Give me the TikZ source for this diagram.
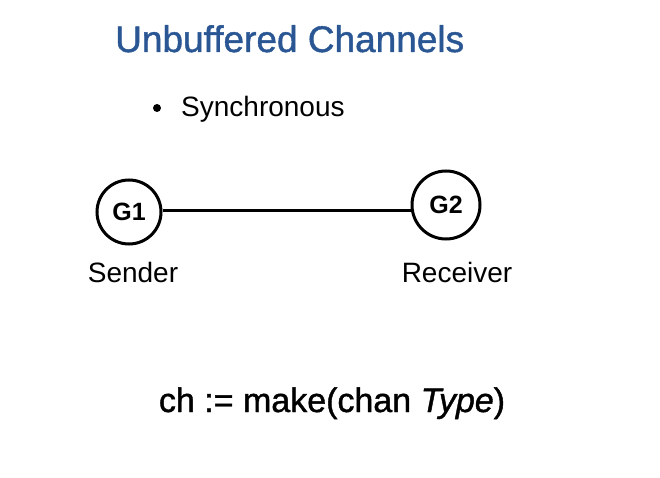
\documentclass[tikz,border=0pt]{standalone}
\usepackage{fontspec}
\setmainfont{Liberation Sans}
\newfontfamily\medfont[FakeBold=1.2,ItalicFont={Liberation Sans Italic},ItalicFeatures={FakeBold=1.2}]{Liberation Sans}
\definecolor{titleblue}{RGB}{42,87,148}
\tikzset{
  gnode/.style={circle, draw=black, line width=3pt, minimum size=64pt, inner sep=0pt, font=\fontsize{25}{30}\selectfont\bfseries},
  lbl/.style={font=\fontsize{28}{33}\selectfont, anchor=base},
}
\begin{document}
\begin{tikzpicture}[x=1pt,y=-1pt]
\useasboundingbox (0,0) rectangle (660,478);
\node[anchor=base west, inner sep=0pt, text=titleblue, font=\medfont\fontsize{37}{44}\selectfont] (title) at (115,52) {Unbuffered Channels};
\node[circle, fill=black, minimum size=8pt, inner sep=0pt] (bullet) at (157,108) {};
\node[anchor=base west, inner sep=0pt, font=\fontsize{28}{33}\selectfont] (sync) at (181,117) {Synchronous};
\node[gnode] (g1) at (129,212) {G1};
\node[gnode, minimum size=68pt] (g2) at (446,205) {G2};
\draw[line width=3pt] (g1.east |- 0,210) -- (g2.west |- 0,210);
\node[lbl] (sender) at (133,282) {Sender};
\node[lbl] (receiver) at (457,282) {Receiver};
\node[anchor=base, inner sep=0pt, font=\medfont\fontsize{34}{40}\selectfont] (code) at (332,412) {ch := make(chan \textit{Type})};
\end{tikzpicture}
\end{document}
